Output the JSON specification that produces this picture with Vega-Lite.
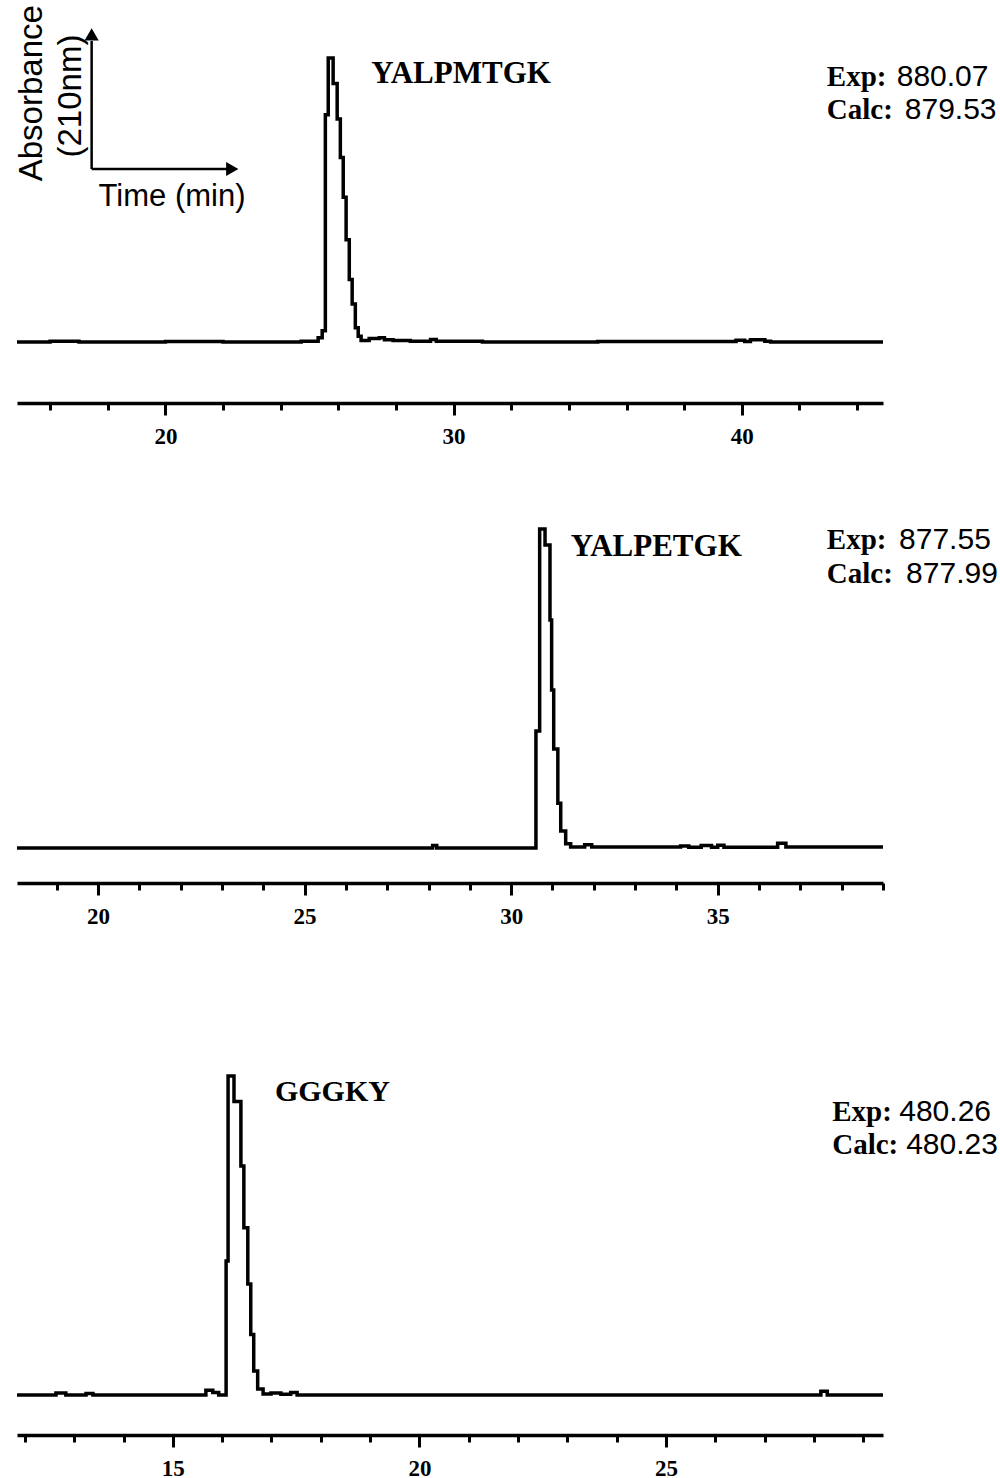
{
  "$schema": "https://vega.github.io/schema/vega-lite/v6.json",
  "padding": {"left": 10, "top": 5, "right": 0, "bottom": 0},
  "background": "white",
  "config": {"view": {"stroke": null}},
  "bounds": "flush",
  "spacing": 80,
  "datasets": {
    "p1": [
      {"t": 14.85, "a": 0}, {"t": 16.0, "a": 0.3}, {"t": 17.0, "a": 0}, {"t": 20.0, "a": 0.2}, {"t": 22.0, "a": 0},
      {"t": 24.71, "a": 0.3}, {"t": 25.3, "a": 1.5}, {"t": 25.44, "a": 4}, {"t": 25.55, "a": 80}, {"t": 25.65, "a": 100},
      {"t": 25.82, "a": 91}, {"t": 25.96, "a": 78.5}, {"t": 26.07, "a": 65}, {"t": 26.17, "a": 51}, {"t": 26.27, "a": 36},
      {"t": 26.38, "a": 22}, {"t": 26.48, "a": 13.4}, {"t": 26.59, "a": 5}, {"t": 26.69, "a": 2}, {"t": 26.79, "a": 0.5},
      {"t": 27.07, "a": 1.2}, {"t": 27.42, "a": 1.5}, {"t": 27.6, "a": 0.8}, {"t": 27.9, "a": 0.5}, {"t": 28.5, "a": 0.3},
      {"t": 29.2, "a": 0.9}, {"t": 29.4, "a": 0.3}, {"t": 31.0, "a": 0}, {"t": 35.0, "a": 0.2}, {"t": 39.8, "a": 0.6},
      {"t": 40.1, "a": 0.2}, {"t": 40.3, "a": 0.8}, {"t": 40.8, "a": 0.3}, {"t": 41.0, "a": 0}, {"t": 44.9, "a": 0}
    ],
    "p2": [
      {"t": 18.04, "a": 0}, {"t": 28.1, "a": 0.8}, {"t": 28.2, "a": 0}, {"t": 30.6, "a": 36.7}, {"t": 30.69, "a": 100},
      {"t": 30.82, "a": 95}, {"t": 30.94, "a": 71.5}, {"t": 30.98, "a": 49.5}, {"t": 31.03, "a": 31}, {"t": 31.13, "a": 14},
      {"t": 31.2, "a": 5.3}, {"t": 31.32, "a": 1.3}, {"t": 31.44, "a": 0.3}, {"t": 31.78, "a": 1}, {"t": 31.95, "a": 0.3},
      {"t": 34.1, "a": 0.6}, {"t": 34.3, "a": 0.2}, {"t": 34.6, "a": 0.8}, {"t": 34.85, "a": 0.2}, {"t": 35.0, "a": 0.9},
      {"t": 35.15, "a": 0.2}, {"t": 36.45, "a": 1.5}, {"t": 36.65, "a": 0.3}, {"t": 39.0, "a": 0.3}
    ],
    "p3": [
      {"t": 11.84, "a": 0}, {"t": 12.63, "a": 0.6}, {"t": 12.83, "a": 0}, {"t": 13.24, "a": 0.5}, {"t": 13.38, "a": 0},
      {"t": 15.67, "a": 1.5}, {"t": 15.81, "a": 0.8}, {"t": 15.93, "a": 0}, {"t": 16.08, "a": 42}, {"t": 16.12, "a": 100},
      {"t": 16.24, "a": 92}, {"t": 16.38, "a": 71.8}, {"t": 16.44, "a": 52.4}, {"t": 16.52, "a": 34.8}, {"t": 16.58, "a": 19},
      {"t": 16.64, "a": 7.5}, {"t": 16.72, "a": 1.9}, {"t": 16.83, "a": 0.3}, {"t": 16.99, "a": 0.6}, {"t": 17.19, "a": 0.2},
      {"t": 17.39, "a": 0.8}, {"t": 17.52, "a": 0}, {"t": 28.14, "a": 1.2}, {"t": 28.27, "a": 0}, {"t": 29.4, "a": 0}
    ]
  },
  "vconcat": [
    {
      "width": 866,
      "height": 397,
      "resolve": {"axis": {"x": "independent"}},
      "layer": [
        {
          "data": {"name": "p1"},
          "mark": {"type": "line", "interpolate": "step-after", "color": "black", "strokeWidth": 3.5},
          "encoding": {
            "x": {"field": "t", "type": "quantitative", "scale": {"domain": [14.85, 44.9], "nice": false, "zero": false},
              "axis": {"orient": "bottom", "values": [16, 18, 22, 24, 26, 28, 32, 34, 36, 38, 42, 44], "labels": false, "tickSize": 7, "tickWidth": 3, "tickColor": "black", "domain": true, "domainWidth": 3.5, "domainColor": "black", "grid": false, "title": null}},
            "y": {"field": "a", "type": "quantitative", "scale": {"domain": [-21.48, 118.31], "nice": false, "zero": false}, "axis": null}
          }
        },
        {
          "data": {"values": [{"t": 27.14, "a": 91.2, "label": "YALPMTGK"}]},
          "mark": {"type": "text", "font": "Liberation Serif", "fontWeight": "bold", "fontSize": 31, "align": "left", "baseline": "alphabetic", "color": "black"},
          "encoding": {
            "x": {"field": "t", "type": "quantitative", "scale": {"domain": [14.85, 44.9], "nice": false, "zero": false},
              "axis": {"orient": "bottom", "values": [20, 30, 40], "labels": true, "tickSize": 12, "tickWidth": 3, "tickColor": "black", "domain": false, "grid": false, "title": null, "labelFont": "Liberation Serif", "labelFontWeight": "bold", "labelFontSize": 23, "labelColor": "black", "labelPadding": 10, "format": "d"}},
            "y": {"field": "a", "type": "quantitative", "scale": {"domain": [-21.48, 118.31], "nice": false, "zero": false}, "axis": null},
            "text": {"field": "label"}
          }
        },
        {
          "data": {"values": [{"t": 42.95, "a": 90.1, "label": "Exp:"}, {"t": 42.95, "a": 78.5, "label": "Calc:"}]},
          "mark": {"type": "text", "font": "Liberation Serif", "fontWeight": "bold", "fontSize": 29, "align": "left", "baseline": "alphabetic", "color": "black"},
          "encoding": {
            "x": {"field": "t", "type": "quantitative", "scale": {"domain": [14.85, 44.9], "nice": false, "zero": false}, "axis": null},
            "y": {"field": "a", "type": "quantitative", "scale": {"domain": [-21.48, 118.31], "nice": false, "zero": false}, "axis": null},
            "text": {"field": "label"}
          }
        },
        {
          "data": {"values": [{"t": 48.56, "a": 90.1, "label": "880.07"}, {"t": 48.84, "a": 78.5, "label": "879.53"}]},
          "mark": {"type": "text", "font": "Liberation Sans", "fontSize": 30, "align": "right", "baseline": "alphabetic", "color": "black"},
          "encoding": {
            "x": {"field": "t", "type": "quantitative", "scale": {"domain": [14.85, 44.9], "nice": false, "zero": false}, "axis": null},
            "y": {"field": "a", "type": "quantitative", "scale": {"domain": [-21.48, 118.31], "nice": false, "zero": false}, "axis": null},
            "text": {"field": "label"}
          }
        },
        {
          "data": {"values": [{"t": 17.44, "a": 60.9, "t2": 17.44, "a2": 106}, {"t": 17.44, "a": 60.9, "t2": 22.15, "a2": 60.9}]},
          "mark": {"type": "rule", "color": "black", "strokeWidth": 2.5},
          "encoding": {
            "x": {"field": "t", "type": "quantitative", "scale": {"domain": [14.85, 44.9], "nice": false, "zero": false}, "axis": null},
            "y": {"field": "a", "type": "quantitative", "scale": {"domain": [-21.48, 118.31], "nice": false, "zero": false}, "axis": null},
            "x2": {"field": "t2"},
            "y2": {"field": "a2"}
          }
        },
        {
          "data": {"values": [{"t": 17.44, "a": 108.3, "shape": "triangle-up"}, {"t": 22.32, "a": 60.9, "shape": "triangle-right"}]},
          "mark": {"type": "point", "filled": true, "color": "black", "size": 200, "opacity": 1},
          "encoding": {
            "x": {"field": "t", "type": "quantitative", "scale": {"domain": [14.85, 44.9], "nice": false, "zero": false}, "axis": null},
            "y": {"field": "a", "type": "quantitative", "scale": {"domain": [-21.48, 118.31], "nice": false, "zero": false}, "axis": null},
            "shape": {"field": "shape", "type": "nominal", "scale": null}
          }
        },
        {
          "data": {"values": [{"t": 15.36, "a": 87.6, "label": "Absorbance"}, {"t": 16.74, "a": 86.6, "label": "(210nm)"}]},
          "mark": {"type": "text", "font": "Liberation Sans", "fontSize": 33, "angle": 270, "align": "center", "baseline": "middle", "color": "black"},
          "encoding": {
            "x": {"field": "t", "type": "quantitative", "scale": {"domain": [14.85, 44.9], "nice": false, "zero": false}, "axis": null},
            "y": {"field": "a", "type": "quantitative", "scale": {"domain": [-21.48, 118.31], "nice": false, "zero": false}, "axis": null},
            "text": {"field": "label"}
          }
        },
        {
          "data": {"values": [{"t": 17.68, "a": 51.0, "label": "Time (min)"}]},
          "mark": {"type": "text", "font": "Liberation Sans", "fontSize": 31, "align": "left", "baseline": "middle", "color": "black"},
          "encoding": {
            "x": {"field": "t", "type": "quantitative", "scale": {"domain": [14.85, 44.9], "nice": false, "zero": false}, "axis": null},
            "y": {"field": "a", "type": "quantitative", "scale": {"domain": [-21.48, 118.31], "nice": false, "zero": false}, "axis": null},
            "text": {"field": "label"}
          }
        }
      ]
    },
    {
      "width": 866,
      "height": 400,
      "resolve": {"axis": {"x": "independent"}},
      "layer": [
        {
          "data": {"name": "p2"},
          "mark": {"type": "line", "interpolate": "step-after", "color": "black", "strokeWidth": 3.5},
          "encoding": {
            "x": {"field": "t", "type": "quantitative", "scale": {"domain": [18.04, 39.0], "nice": false, "zero": false},
              "axis": {"orient": "bottom", "values": [19, 21, 22, 23, 24, 26, 27, 28, 29, 31, 32, 33, 34, 36, 37, 38, 39], "labels": false, "tickSize": 7, "tickWidth": 3, "tickColor": "black", "domain": true, "domainWidth": 3.5, "domainColor": "black", "grid": false, "title": null}},
            "y": {"field": "a", "type": "quantitative", "scale": {"domain": [-10.97, 114.42], "nice": false, "zero": false}, "axis": null}
          }
        },
        {
          "data": {"values": [{"t": 31.44, "a": 91.5, "label": "YALPETGK"}]},
          "mark": {"type": "text", "font": "Liberation Serif", "fontWeight": "bold", "fontSize": 31, "align": "left", "baseline": "alphabetic", "color": "black"},
          "encoding": {
            "x": {"field": "t", "type": "quantitative", "scale": {"domain": [18.04, 39.0], "nice": false, "zero": false},
              "axis": {"orient": "bottom", "values": [20, 25, 30, 35], "labels": true, "tickSize": 12, "tickWidth": 3, "tickColor": "black", "domain": false, "grid": false, "title": null, "labelFont": "Liberation Serif", "labelFontWeight": "bold", "labelFontSize": 23, "labelColor": "black", "labelPadding": 10, "format": "d"}},
            "y": {"field": "a", "type": "quantitative", "scale": {"domain": [-10.97, 114.42], "nice": false, "zero": false}, "axis": null},
            "text": {"field": "label"}
          }
        },
        {
          "data": {"values": [{"t": 37.64, "a": 93.7, "label": "Exp:"}, {"t": 37.64, "a": 83.1, "label": "Calc:"}]},
          "mark": {"type": "text", "font": "Liberation Serif", "fontWeight": "bold", "fontSize": 29, "align": "left", "baseline": "alphabetic", "color": "black"},
          "encoding": {
            "x": {"field": "t", "type": "quantitative", "scale": {"domain": [18.04, 39.0], "nice": false, "zero": false}, "axis": null},
            "y": {"field": "a", "type": "quantitative", "scale": {"domain": [-10.97, 114.42], "nice": false, "zero": false}, "axis": null},
            "text": {"field": "label"}
          }
        },
        {
          "data": {"values": [{"t": 41.61, "a": 93.7, "label": "877.55"}, {"t": 41.78, "a": 83.1, "label": "877.99"}]},
          "mark": {"type": "text", "font": "Liberation Sans", "fontSize": 30, "align": "right", "baseline": "alphabetic", "color": "black"},
          "encoding": {
            "x": {"field": "t", "type": "quantitative", "scale": {"domain": [18.04, 39.0], "nice": false, "zero": false}, "axis": null},
            "y": {"field": "a", "type": "quantitative", "scale": {"domain": [-10.97, 114.42], "nice": false, "zero": false}, "axis": null},
            "text": {"field": "label"}
          }
        }
      ]
    },
    {
      "width": 866,
      "height": 472,
      "resolve": {"axis": {"x": "independent"}},
      "layer": [
        {
          "data": {"name": "p3"},
          "mark": {"type": "line", "interpolate": "step-after", "color": "black", "strokeWidth": 3.5},
          "encoding": {
            "x": {"field": "t", "type": "quantitative", "scale": {"domain": [11.84, 29.4], "nice": false, "zero": false},
              "axis": {"orient": "bottom", "values": [12, 13, 14, 16, 17, 18, 19, 21, 22, 23, 24, 26, 27, 28, 29], "labels": false, "tickSize": 7, "tickWidth": 3, "tickColor": "black", "domain": true, "domainWidth": 3.5, "domainColor": "black", "grid": false, "title": null}},
            "y": {"field": "a", "type": "quantitative", "scale": {"domain": [-12.54, 135.42], "nice": false, "zero": false}, "axis": null}
          }
        },
        {
          "data": {"values": [{"t": 17.07, "a": 92.2, "label": "GGGKY"}]},
          "mark": {"type": "text", "font": "Liberation Serif", "fontWeight": "bold", "fontSize": 30, "align": "left", "baseline": "alphabetic", "color": "black"},
          "encoding": {
            "x": {"field": "t", "type": "quantitative", "scale": {"domain": [11.84, 29.4], "nice": false, "zero": false},
              "axis": {"orient": "bottom", "values": [15, 20, 25], "labels": true, "tickSize": 12, "tickWidth": 3, "tickColor": "black", "domain": false, "grid": false, "title": null, "labelFont": "Liberation Serif", "labelFontWeight": "bold", "labelFontSize": 23, "labelColor": "black", "labelPadding": 10, "format": "d"}},
            "y": {"field": "a", "type": "quantitative", "scale": {"domain": [-12.54, 135.42], "nice": false, "zero": false}, "axis": null},
            "text": {"field": "label"}
          }
        },
        {
          "data": {"values": [{"t": 28.37, "a": 85.9, "label": "Exp:"}, {"t": 28.37, "a": 75.5, "label": "Calc:"}]},
          "mark": {"type": "text", "font": "Liberation Serif", "fontWeight": "bold", "fontSize": 29, "align": "left", "baseline": "alphabetic", "color": "black"},
          "encoding": {
            "x": {"field": "t", "type": "quantitative", "scale": {"domain": [11.84, 29.4], "nice": false, "zero": false}, "axis": null},
            "y": {"field": "a", "type": "quantitative", "scale": {"domain": [-12.54, 135.42], "nice": false, "zero": false}, "axis": null},
            "text": {"field": "label"}
          }
        },
        {
          "data": {"values": [{"t": 31.59, "a": 85.9, "label": "480.26"}, {"t": 31.73, "a": 75.5, "label": "480.23"}]},
          "mark": {"type": "text", "font": "Liberation Sans", "fontSize": 30, "align": "right", "baseline": "alphabetic", "color": "black"},
          "encoding": {
            "x": {"field": "t", "type": "quantitative", "scale": {"domain": [11.84, 29.4], "nice": false, "zero": false}, "axis": null},
            "y": {"field": "a", "type": "quantitative", "scale": {"domain": [-12.54, 135.42], "nice": false, "zero": false}, "axis": null},
            "text": {"field": "label"}
          }
        }
      ]
    }
  ]
}
